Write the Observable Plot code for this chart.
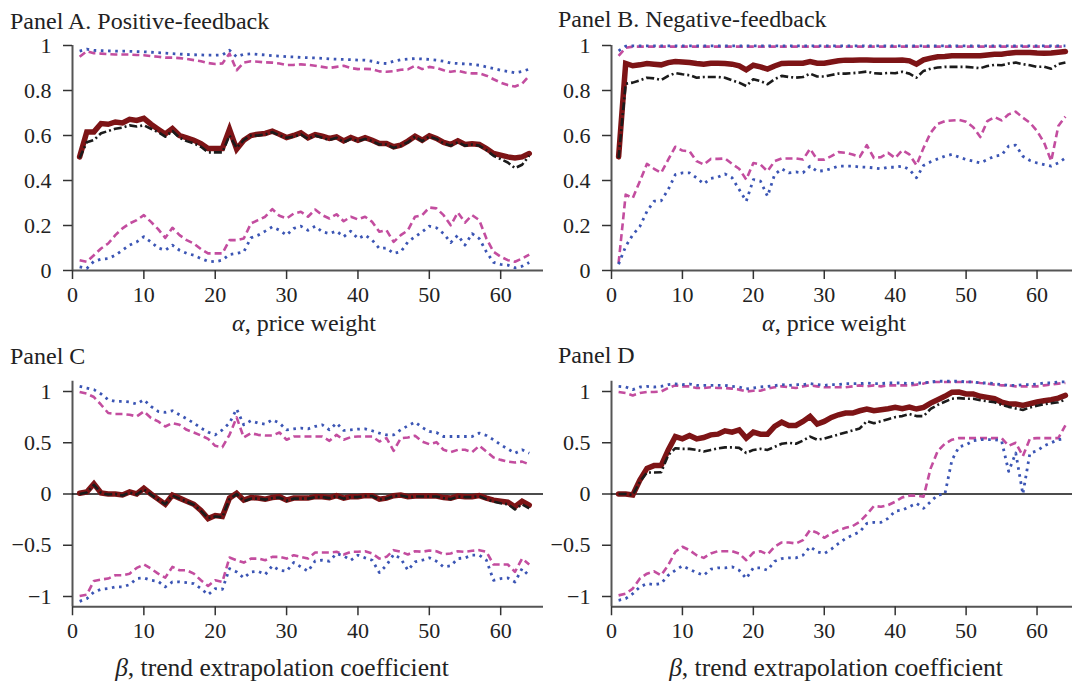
<!DOCTYPE html>
<html><head><meta charset="utf-8">
<script src="https://cdn.jsdelivr.net/npm/d3@7"></script>
<script src="https://cdn.jsdelivr.net/npm/@observablehq/plot@0.6"></script>
<style>
body{margin:0;background:#fff;}
#root{position:relative;width:1072px;height:684px;font-family:"Liberation Serif","Times New Roman",serif;color:#222;overflow:hidden;}
.t{position:absolute;font-size:24px;line-height:1;white-space:nowrap;}
.t.b{font-size:25.5px;}
.p{position:absolute;}
</style></head><body><div id="root"></div><script>
// x values (alpha for panels A,B; beta for panels C,D)
const xs = [1,2,3,4,5,6,7,8,9,10,11,12,13,14,15,16,17,18,19,20,21,22,23,24,25,26,27,28,29,30,31,32,33,34,35,36,37,38,39,40,41,42,43,44,45,46,47,48,49,50,51,52,53,54,55,56,57,58,59,60,61,62,63,64];
const xTicks = [0,10,20,30,40,50,60];
const yTicksAB = [0,0.2,0.4,0.6,0.8,1];
const yTicksCD = [-1,-0.5,0,0.5,1];

// Panel A. Positive-feedback
const aRed = [0.505,0.616,0.616,0.653,0.65,0.66,0.656,0.672,0.667,0.676,0.65,0.628,0.607,0.631,0.60,0.59,0.579,0.564,0.542,0.542,0.542,0.628,0.539,0.579,0.60,0.606,0.609,0.619,0.606,0.591,0.60,0.612,0.59,0.604,0.597,0.587,0.594,0.576,0.591,0.579,0.59,0.579,0.564,0.564,0.55,0.557,0.575,0.597,0.579,0.599,0.587,0.569,0.56,0.576,0.56,0.563,0.56,0.542,0.52,0.513,0.505,0.50,0.505,0.52];
const aBlack = [0.50,0.57,0.58,0.61,0.62,0.63,0.635,0.645,0.64,0.645,0.63,0.615,0.595,0.62,0.59,0.575,0.565,0.55,0.525,0.525,0.525,0.60,0.545,0.58,0.60,0.60,0.605,0.615,0.60,0.59,0.595,0.605,0.585,0.60,0.59,0.58,0.59,0.57,0.585,0.575,0.585,0.575,0.56,0.56,0.545,0.555,0.57,0.595,0.575,0.595,0.585,0.565,0.555,0.57,0.555,0.56,0.555,0.535,0.51,0.495,0.48,0.455,0.47,0.51];
const aBlueHi = [0.975,0.984,0.978,0.977,0.976,0.975,0.975,0.974,0.973,0.972,0.97,0.968,0.966,0.964,0.962,0.96,0.959,0.958,0.957,0.957,0.958,0.979,0.95,0.961,0.963,0.96,0.958,0.955,0.953,0.95,0.949,0.947,0.946,0.945,0.943,0.94,0.939,0.938,0.937,0.935,0.935,0.93,0.922,0.92,0.93,0.937,0.94,0.942,0.94,0.938,0.935,0.93,0.922,0.92,0.918,0.916,0.912,0.905,0.898,0.89,0.885,0.879,0.885,0.895];
const aMagHi = [0.95,0.975,0.966,0.964,0.962,0.96,0.96,0.96,0.958,0.957,0.953,0.95,0.946,0.946,0.944,0.94,0.935,0.93,0.922,0.918,0.92,0.964,0.89,0.924,0.93,0.928,0.925,0.924,0.92,0.913,0.914,0.916,0.914,0.91,0.905,0.90,0.905,0.91,0.90,0.895,0.896,0.895,0.885,0.883,0.886,0.892,0.894,0.91,0.895,0.905,0.90,0.89,0.883,0.888,0.88,0.876,0.876,0.866,0.85,0.835,0.824,0.818,0.83,0.865];
const aMagLo = [0.046,0.039,0.068,0.098,0.12,0.157,0.187,0.209,0.224,0.246,0.216,0.184,0.145,0.19,0.157,0.135,0.12,0.095,0.076,0.076,0.076,0.135,0.135,0.142,0.209,0.224,0.239,0.273,0.243,0.231,0.253,0.261,0.239,0.271,0.246,0.231,0.25,0.219,0.239,0.227,0.239,0.216,0.172,0.179,0.127,0.157,0.179,0.239,0.246,0.28,0.276,0.246,0.201,0.258,0.213,0.246,0.224,0.142,0.083,0.061,0.046,0.039,0.053,0.071];
const aBlueLo = [0.016,0.009,0.041,0.05,0.053,0.068,0.09,0.113,0.127,0.15,0.127,0.10,0.09,0.113,0.09,0.076,0.068,0.053,0.041,0.039,0.046,0.071,0.076,0.083,0.145,0.157,0.175,0.194,0.179,0.157,0.187,0.197,0.179,0.197,0.172,0.164,0.175,0.15,0.175,0.142,0.157,0.135,0.098,0.10,0.076,0.083,0.127,0.15,0.172,0.197,0.19,0.164,0.124,0.157,0.113,0.164,0.142,0.083,0.036,0.027,0.024,0.012,0.019,0.036];

// Panel B. Negative-feedback
const bRed = [0.505,0.92,0.91,0.914,0.92,0.917,0.914,0.924,0.929,0.927,0.924,0.92,0.917,0.921,0.921,0.92,0.917,0.91,0.892,0.912,0.905,0.895,0.909,0.92,0.921,0.921,0.921,0.929,0.921,0.921,0.927,0.932,0.935,0.935,0.936,0.936,0.935,0.935,0.935,0.935,0.936,0.932,0.917,0.936,0.944,0.95,0.951,0.954,0.954,0.954,0.954,0.954,0.958,0.961,0.961,0.966,0.969,0.969,0.969,0.967,0.966,0.967,0.97,0.973];
const bBlack = [0.50,0.83,0.835,0.845,0.857,0.854,0.847,0.865,0.877,0.872,0.868,0.857,0.86,0.86,0.86,0.857,0.845,0.835,0.82,0.85,0.842,0.828,0.85,0.865,0.86,0.857,0.86,0.875,0.862,0.862,0.869,0.875,0.875,0.877,0.88,0.884,0.877,0.875,0.878,0.877,0.883,0.875,0.857,0.887,0.897,0.902,0.905,0.905,0.905,0.905,0.902,0.899,0.909,0.914,0.912,0.92,0.924,0.917,0.912,0.905,0.906,0.897,0.917,0.924];
const bBlueHi = [0.976,0.997,0.998,0.998,0.998,0.998,0.998,0.998,0.998,0.998,0.998,0.998,0.998,0.998,0.998,0.998,0.998,0.998,0.998,0.998,0.998,0.998,0.998,0.998,0.998,0.998,0.998,0.998,0.998,0.998,0.998,0.998,0.998,0.998,0.998,0.998,0.998,0.998,0.998,0.998,0.998,0.998,0.998,0.998,0.998,0.998,0.998,0.998,0.998,0.998,0.998,0.998,0.998,0.998,0.998,0.998,0.998,0.998,0.998,0.998,0.998,0.998,0.998,0.998];
const bMagHi = [0.954,0.99,0.995,0.995,0.995,0.995,0.995,0.995,0.995,0.995,0.995,0.995,0.995,0.995,0.995,0.995,0.995,0.995,0.995,0.995,0.995,0.995,0.995,0.995,0.995,0.995,0.995,0.995,0.995,0.995,0.995,0.995,0.995,0.995,0.995,0.995,0.995,0.995,0.995,0.995,0.995,0.995,0.995,0.995,0.995,0.995,0.995,0.995,0.995,0.995,0.995,0.995,0.995,0.995,0.995,0.995,0.995,0.995,0.995,0.995,0.995,0.995,0.995,0.995];
const bMagLo = [0.033,0.337,0.322,0.397,0.474,0.452,0.434,0.493,0.55,0.533,0.53,0.486,0.471,0.496,0.496,0.498,0.474,0.452,0.404,0.478,0.471,0.441,0.486,0.498,0.498,0.498,0.493,0.541,0.493,0.493,0.508,0.526,0.523,0.516,0.505,0.557,0.50,0.504,0.523,0.50,0.535,0.516,0.468,0.545,0.612,0.652,0.664,0.667,0.669,0.661,0.637,0.593,0.664,0.682,0.667,0.694,0.706,0.679,0.657,0.62,0.568,0.486,0.642,0.684];
const bBlueLo = [0.028,0.107,0.159,0.196,0.263,0.308,0.31,0.36,0.426,0.434,0.434,0.412,0.385,0.409,0.415,0.429,0.412,0.36,0.308,0.404,0.397,0.33,0.426,0.452,0.434,0.438,0.434,0.464,0.441,0.444,0.453,0.464,0.464,0.464,0.46,0.459,0.456,0.452,0.459,0.459,0.464,0.449,0.412,0.467,0.483,0.496,0.508,0.516,0.504,0.493,0.486,0.478,0.493,0.508,0.513,0.553,0.557,0.508,0.489,0.478,0.471,0.464,0.478,0.50];

// Panel C
const cRed = [0.007,0.02,0.10,0.01,0,0,-0.01,0.02,0,0.055,0,-0.05,-0.10,-0.01,-0.04,-0.07,-0.10,-0.16,-0.24,-0.21,-0.22,-0.04,0.007,-0.06,-0.035,-0.04,-0.05,-0.035,-0.026,-0.06,-0.04,-0.04,-0.04,-0.026,-0.026,-0.035,-0.016,-0.04,-0.026,-0.026,-0.016,-0.016,-0.05,-0.04,-0.016,-0.01,-0.026,-0.02,-0.02,-0.02,-0.02,-0.035,-0.04,-0.02,-0.026,-0.026,-0.016,-0.04,-0.06,-0.07,-0.08,-0.124,-0.07,-0.108];
const cBlack = [0,0.015,0.09,0.01,-0.005,0,-0.015,0.015,-0.005,0.045,-0.005,-0.055,-0.10,-0.015,-0.045,-0.075,-0.105,-0.165,-0.235,-0.22,-0.225,-0.05,0,-0.07,-0.045,-0.045,-0.055,-0.04,-0.035,-0.065,-0.045,-0.045,-0.045,-0.03,-0.03,-0.04,-0.02,-0.045,-0.03,-0.03,-0.02,-0.02,-0.055,-0.045,-0.02,-0.015,-0.03,-0.025,-0.025,-0.025,-0.025,-0.04,-0.05,-0.025,-0.03,-0.03,-0.02,-0.05,-0.075,-0.09,-0.10,-0.15,-0.10,-0.14];
const cBlueHi = [1.05,1.034,1.018,0.976,0.92,0.904,0.904,0.897,0.878,0.92,0.855,0.806,0.796,0.812,0.773,0.734,0.692,0.643,0.604,0.577,0.626,0.692,0.829,0.675,0.715,0.692,0.682,0.724,0.692,0.626,0.636,0.643,0.636,0.659,0.675,0.626,0.692,0.62,0.626,0.633,0.636,0.617,0.594,0.577,0.577,0.626,0.666,0.701,0.649,0.61,0.60,0.561,0.561,0.561,0.561,0.561,0.594,0.571,0.529,0.48,0.44,0.398,0.431,0.398];
const cMagHi = [0.995,0.979,0.946,0.871,0.79,0.78,0.78,0.773,0.757,0.806,0.741,0.708,0.659,0.692,0.675,0.626,0.60,0.571,0.538,0.47,0.457,0.577,0.747,0.551,0.594,0.577,0.571,0.571,0.60,0.529,0.561,0.561,0.561,0.561,0.561,0.519,0.577,0.529,0.555,0.561,0.561,0.561,0.512,0.545,0.421,0.545,0.551,0.568,0.512,0.486,0.506,0.431,0.408,0.431,0.431,0.408,0.47,0.414,0.356,0.333,0.316,0.307,0.316,0.29];
const cMagLo = [-0.995,-0.982,-0.848,-0.835,-0.825,-0.793,-0.793,-0.777,-0.721,-0.688,-0.728,-0.777,-0.816,-0.711,-0.744,-0.744,-0.777,-0.842,-0.897,-0.842,-0.858,-0.62,-0.646,-0.669,-0.63,-0.63,-0.646,-0.613,-0.613,-0.63,-0.597,-0.613,-0.63,-0.571,-0.571,-0.571,-0.564,-0.59,-0.564,-0.564,-0.558,-0.58,-0.63,-0.613,-0.548,-0.564,-0.59,-0.558,-0.564,-0.551,-0.558,-0.587,-0.58,-0.558,-0.564,-0.554,-0.548,-0.564,-0.688,-0.688,-0.688,-0.76,-0.63,-0.688];
const cBlueLo = [-1.047,-1.021,-0.956,-0.93,-0.923,-0.907,-0.907,-0.884,-0.825,-0.819,-0.842,-0.852,-0.907,-0.858,-0.858,-0.865,-0.874,-0.923,-0.982,-0.923,-0.93,-0.728,-0.76,-0.819,-0.76,-0.754,-0.786,-0.701,-0.744,-0.754,-0.669,-0.711,-0.754,-0.653,-0.646,-0.656,-0.581,-0.604,-0.646,-0.597,-0.623,-0.646,-0.767,-0.695,-0.59,-0.63,-0.744,-0.662,-0.646,-0.623,-0.656,-0.711,-0.701,-0.63,-0.623,-0.597,-0.597,-0.646,-0.842,-0.825,-0.819,-0.858,-0.728,-0.80];

// Panel D
const dRed = [0,0,-0.01,0.137,0.25,0.277,0.277,0.43,0.56,0.538,0.571,0.538,0.551,0.577,0.584,0.617,0.604,0.626,0.545,0.604,0.584,0.584,0.659,0.701,0.669,0.669,0.708,0.757,0.682,0.708,0.747,0.773,0.79,0.79,0.812,0.829,0.812,0.822,0.832,0.845,0.832,0.848,0.829,0.845,0.887,0.92,0.953,0.992,0.995,0.976,0.976,0.953,0.943,0.93,0.897,0.878,0.878,0.865,0.881,0.897,0.91,0.92,0.936,0.962];
const dBlack = [0,0,-0.01,0.12,0.21,0.21,0.212,0.38,0.447,0.44,0.44,0.43,0.414,0.43,0.445,0.455,0.455,0.45,0.40,0.43,0.44,0.43,0.46,0.49,0.50,0.49,0.52,0.56,0.53,0.54,0.56,0.58,0.60,0.62,0.64,0.71,0.69,0.71,0.73,0.75,0.76,0.78,0.76,0.76,0.83,0.87,0.90,0.93,0.935,0.93,0.93,0.915,0.905,0.895,0.87,0.85,0.835,0.82,0.845,0.86,0.875,0.885,0.895,0.92];
const dBlueHi = [1.05,1.044,1.018,1.044,1.05,1.044,1.05,1.067,1.073,1.067,1.073,1.06,1.06,1.06,1.06,1.06,1.05,1.044,1.025,1.034,1.044,1.05,1.057,1.067,1.06,1.067,1.067,1.077,1.067,1.06,1.067,1.067,1.077,1.077,1.077,1.083,1.077,1.077,1.083,1.083,1.083,1.077,1.083,1.083,1.093,1.10,1.10,1.10,1.10,1.093,1.093,1.083,1.083,1.077,1.067,1.06,1.06,1.067,1.067,1.073,1.083,1.083,1.093,1.093];
const dMagHi = [0.995,0.985,0.962,0.985,0.995,0.995,1.0,1.034,1.06,1.05,1.05,1.034,1.034,1.041,1.034,1.034,1.028,1.018,1.0,1.008,1.008,1.028,1.041,1.05,1.041,1.034,1.05,1.06,1.05,1.041,1.041,1.041,1.041,1.05,1.06,1.05,1.06,1.05,1.06,1.06,1.06,1.06,1.067,1.077,1.093,1.093,1.093,1.093,1.093,1.093,1.093,1.083,1.077,1.067,1.06,1.06,1.05,1.05,1.05,1.05,1.06,1.067,1.077,1.083];
const dMagLo = [-0.989,-0.972,-0.923,-0.825,-0.777,-0.754,-0.793,-0.695,-0.564,-0.515,-0.548,-0.597,-0.623,-0.581,-0.558,-0.558,-0.558,-0.581,-0.646,-0.571,-0.558,-0.59,-0.515,-0.473,-0.473,-0.483,-0.45,-0.352,-0.378,-0.427,-0.385,-0.352,-0.33,-0.313,-0.271,-0.199,-0.117,-0.124,-0.108,-0.075,-0.033,-0.016,-0.016,-0.026,0.25,0.42,0.49,0.53,0.545,0.545,0.545,0.545,0.545,0.545,0.545,0.47,0.50,0.37,0.54,0.545,0.545,0.545,0.545,0.669];
const dBlueLo = [-1.037,-1.021,-0.972,-0.907,-0.874,-0.884,-0.874,-0.793,-0.744,-0.701,-0.734,-0.767,-0.793,-0.734,-0.721,-0.721,-0.711,-0.744,-0.825,-0.721,-0.721,-0.744,-0.656,-0.63,-0.623,-0.623,-0.597,-0.515,-0.564,-0.581,-0.538,-0.483,-0.434,-0.401,-0.369,-0.287,-0.277,-0.277,-0.238,-0.166,-0.157,-0.124,-0.091,-0.14,-0.075,-0.01,-0.003,0.33,0.46,0.48,0.52,0.53,0.53,0.53,0.52,0.22,0.40,0.0,0.40,0.42,0.47,0.50,0.53,0.54];

const STY = {
  blueHi: {stroke:"#3b55b4", strokeWidth:2.8, strokeDasharray:"2.6,4.6", strokeLinecap:"butt"},
  blueLo: {stroke:"#3b55b4", strokeWidth:2.8, strokeDasharray:"2.6,4.6", strokeLinecap:"butt"},
  magHi: {stroke:"#c34d9f", strokeWidth:2.6, strokeDasharray:"7,4", strokeLinecap:"butt"},
  magLo: {stroke:"#c34d9f", strokeWidth:2.6, strokeDasharray:"7,4", strokeLinecap:"butt"},
  red:   {stroke:"#7d1416", strokeWidth:5.5, strokeLinejoin:"miter", strokeMiterlimit:3},
  black: {stroke:"#1b1b1b", strokeWidth:2.6, strokeDasharray:"8,3,2,3", strokeLinecap:"butt"}
};
const ORDER = ["red","black","magHi","magLo","blueHi","blueLo"];
const fmt = d => d < 0 ? "\u2212" + Math.abs(d) : String(d);

function table(series) {
  const rows = [];
  for (const k of ORDER) series[k].forEach((v, i) => rows.push({x: xs[i], y: v, s: k}));
  return rows;
}

const root = document.getElementById("root");

function panel(cfg) {
  const rows = table(cfg.series);
  const marks = [
    Plot.ruleX([0], {stroke:"#555", strokeWidth:2}),
    Plot.ruleY([cfg.yDomain[0]], {stroke:"#555", strokeWidth:2})
  ];
  if (cfg.zero) marks.push(Plot.ruleY([0], {stroke:"#111", strokeWidth:1.4}));
  marks.push(Plot.axisX(xTicks, {tickSize:9, tickPadding:7, tickFormat:fmt, stroke:"#333", strokeWidth:1.5, label:null}));
  marks.push(Plot.axisY(cfg.yTicks, {tickSize:9, tickPadding:12, tickFormat:fmt, stroke:"#333", strokeWidth:1.5, label:null}));
  for (const k of ORDER) marks.push(Plot.line(rows.filter(d => d.s === k), {x:"x", y:"y", ...STY[k]}));
  const svg = Plot.plot({
    width: cfg.width, height: cfg.height,
    marginLeft: cfg.mL, marginRight: cfg.mR, marginTop: cfg.mT, marginBottom: cfg.mB,
    x: {domain: cfg.xDomain, axis: null},
    y: {domain: cfg.yDomain, axis: null},
    style: {fontFamily:'"Liberation Serif", "Times New Roman", serif', fontSize:"22px", color:"#222", background:"transparent", overflow:"visible", maxWidth:"none"},
    marks
  });
  const div = document.createElement("div");
  div.className = "p";
  div.style.left = cfg.left + "px"; div.style.top = cfg.top + "px";
  div.style.width = cfg.width + "px"; div.style.height = cfg.height + "px";
  div.appendChild(svg);
  root.appendChild(div);
}

function text(html, left, top, center, cls) {
  const el = document.createElement("div");
  el.className = "t" + (cls ? " " + cls : "");
  el.innerHTML = html;
  el.style.left = left + "px"; el.style.top = top + "px";
  if (center) el.style.transform = "translateX(-50%)";
  root.appendChild(el);
}

panel({left:0, top:0, width:545, height:320, mL:72, mR:2, mT:45, mB:50, xDomain:[0,66], yDomain:[0,1], yTicks:yTicksAB,
  series:{red:aRed, black:aBlack, magHi:aMagHi, magLo:aMagLo, blueHi:aBlueHi, blueLo:aBlueLo}});
panel({left:540, top:0, width:532, height:320, mL:71, mR:0, mT:45, mB:50, xDomain:[0,65], yDomain:[0,1], yTicks:yTicksAB,
  series:{red:bRed, black:bBlack, magHi:bMagHi, magLo:bMagLo, blueHi:bBlueHi, blueLo:bBlueLo}});
panel({left:0, top:340, width:545, height:344, mL:72, mR:2, mT:40.75, mB:77.75, xDomain:[0,66], yDomain:[-1.1,1.1], yTicks:yTicksCD, zero:true,
  series:{red:cRed, black:cBlack, magHi:cMagHi, magLo:cMagLo, blueHi:cBlueHi, blueLo:cBlueLo}});
panel({left:540, top:340, width:532, height:344, mL:71, mR:0, mT:40.75, mB:77.75, xDomain:[0,65], yDomain:[-1.1,1.1], yTicks:yTicksCD, zero:true,
  series:{red:dRed, black:dBlack, magHi:dMagHi, magLo:dMagLo, blueHi:dBlueHi, blueLo:dBlueLo}});

text("Panel A. Positive-feedback", 10, 9, false);
text("Panel B. Negative-feedback", 558, 7, false);
text("Panel C", 10, 344, false);
text("Panel D", 558, 343, false);
text("<i>\u03b1</i>, price weight", 304, 311, true);
text("<i>\u03b1</i>, price weight", 834, 311, true);
text("<i>\u03b2</i>, trend extrapolation coefficient", 282, 655, true, "b");
text("<i>\u03b2</i>, trend extrapolation coefficient", 836, 655, true, "b");
</script></body></html>
